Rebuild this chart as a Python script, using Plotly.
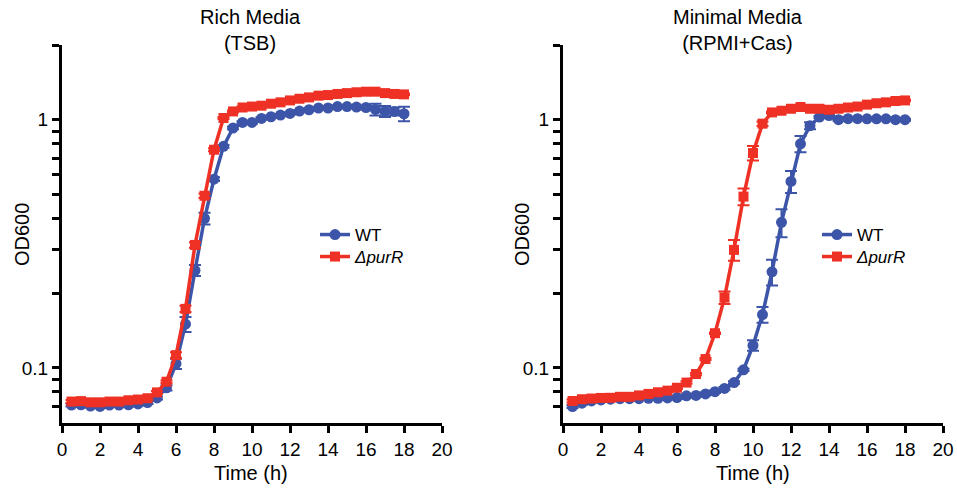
import plotly.graph_objects as go
import math

time_h = [0.5, 1, 1.5, 2, 2.5, 3, 3.5, 4, 4.5, 5, 5.5, 6, 6.5, 7, 7.5, 8, 8.5, 9,
          9.5, 10, 10.5, 11, 11.5, 12, 12.5, 13, 13.5, 14, 14.5, 15, 15.5, 16, 16.5, 17, 17.5, 18]

# Rich media (TSB)
tsb_wt = [0.0709, 0.071, 0.0702, 0.070, 0.0709, 0.0709, 0.071, 0.0716, 0.0725, 0.0757, 0.0832, 0.104,
          0.150, 0.247, 0.400, 0.576, 0.781, 0.926, 0.975, 0.975, 1.012, 1.028, 1.044, 1.06,
          1.084, 1.097, 1.115, 1.115, 1.13, 1.13, 1.125, 1.12, 1.10, 1.08, 1.08, 1.057]
tsb_wt_err = [0.001, 0.001, 0.001, 0.001, 0.001, 0.001, 0.001, 0.001, 0.001, 0.001, 0.002, 0.005,
              0.0105, 0.0126, 0.022, 0.01, 0.01, 0.01, 0.01, 0.01, 0.01, 0.01, 0.01, 0.01,
              0.01, 0.01, 0.01, 0.01, 0.01, 0.01, 0.01, 0.02, 0.06, 0.055, 0.04, 0.07]
tsb_purr = [0.0732, 0.0735, 0.0727, 0.0727, 0.0732, 0.0732, 0.0741, 0.0746, 0.0755, 0.0797, 0.088, 0.1126,
            0.173, 0.313, 0.494, 0.757, 1.016, 1.08, 1.12, 1.13, 1.139, 1.16, 1.175, 1.196,
            1.215, 1.23, 1.25, 1.257, 1.27, 1.28, 1.29, 1.297, 1.297, 1.28, 1.27, 1.265]
tsb_purr_err = [0.001] * 11 + [0.003, 0.005, 0.008, 0.01, 0.01] + [0.01] * 20

# Minimal media (RPMI+Cas)
rpmi_wt = [0.0699, 0.0721, 0.0736, 0.0743, 0.0748, 0.0752, 0.0752, 0.0752, 0.0754, 0.0754, 0.0757, 0.076,
           0.0772, 0.0775, 0.0786, 0.0802, 0.0827, 0.0873, 0.0983, 0.1232, 0.164, 0.244, 0.386, 0.564,
           0.80, 0.946, 1.025, 1.04, 1.0, 1.01, 1.01, 1.008, 1.008, 1.008, 1.0, 1.0]
rpmi_wt_err = [0.001] * 19 + [0.006, 0.012, 0.029, 0.05, 0.057, 0.06, 0.03] + [0.01] * 10
rpmi_purr = [0.0736, 0.0748, 0.0753, 0.0757, 0.0758, 0.0765, 0.0765, 0.0775, 0.0786, 0.0798, 0.081, 0.0832,
             0.0873, 0.0945, 0.1086, 0.138, 0.192, 0.299, 0.49, 0.734, 0.964, 1.07, 1.087, 1.107,
             1.125, 1.107, 1.107, 1.097, 1.107, 1.12, 1.13, 1.15, 1.165, 1.175, 1.19, 1.196]
rpmi_purr_err = [0.001] * 16 + [0.011, 0.029, 0.038, 0.049, 0.02] + [0.01] * 15

titles = ["Rich Media<br>(TSB)", "Minimal Media<br>(RPMI+Cas)"]
x_title = "Time (h)"
y_title = "OD600"
series_names = ["WT", "<i>ΔpurR</i>"]
x_ticks = [0, 2, 4, 6, 8, 10, 12, 14, 16, 18, 20]
y_tickvals = [0.07, 0.08, 0.09, 0.1, 0.2, 0.3, 0.4, 0.5, 0.6, 0.7, 0.8, 0.9, 1, 2]
y_ticktext = ["" if v not in (0.1, 1) else ("0.1" if v == 0.1 else "1") for v in y_tickvals]

BLUE = "#3C55A8"
RED = "#EE3124"
FONT = "Liberation Sans"
W, H = 957, 488


def px(x):
    return x / W


def py(y):
    return (H - y) / H


fig = go.Figure()

panels = [
    (tsb_wt, tsb_wt_err, tsb_purr, tsb_purr_err, "x", "y", "legend", "legend2"),
    (rpmi_wt, rpmi_wt_err, rpmi_purr, rpmi_purr_err, "x2", "y2", "legend3", "legend4"),
]
for wt, wte, pr, pre, xa, ya, lg1, lg2 in panels:
    fig.add_trace(go.Scatter(
        x=time_h, y=wt, name=series_names[0], mode="lines+markers", xaxis=xa, yaxis=ya, legend=lg1,
        line=dict(color=BLUE, width=3.5), marker=dict(symbol="circle", size=11, color=BLUE),
        error_y=dict(type="data", array=wte, color=BLUE, thickness=2, width=6)))
    fig.add_trace(go.Scatter(
        x=time_h, y=pr, name=series_names[1], mode="lines+markers", xaxis=xa, yaxis=ya, legend=lg2,
        line=dict(color=RED, width=3.5), marker=dict(symbol="square", size=10, color=RED),
        error_y=dict(type="data", array=pre, color=RED, thickness=2, width=6)))

ydom = [py(423), py(45)]
xdoms = [[px(62), px(442)], [px(563), px(943)]]

axis_common_x = dict(range=[0, 20], tickvals=x_ticks, ticks="outside", ticklen=7, tickwidth=2.5,
                     tickcolor="black", showline=True, linecolor="black", linewidth=3,
                     showgrid=False, zeroline=False, tickfont=dict(size=19, color="black"),
                     automargin=False)
axis_common_y = dict(type="log", range=[math.log10(0.06), math.log10(2)], tickvals=y_tickvals,
                     ticktext=y_ticktext, ticks="outside", ticklen=7, tickwidth=2.5, tickcolor="black",
                     showline=True, linecolor="black", linewidth=3, showgrid=False, zeroline=False,
                     tickfont=dict(size=19, color="black"), automargin=False)


def leg(x, y):
    return dict(x=px(x), y=py(y), xanchor="left", yanchor="middle", bgcolor="rgba(0,0,0,0)",
                font=dict(size=17, color="black"), itemwidth=30, tracegroupgap=0)


fig.update_layout(
    width=W, height=H, margin=dict(l=0, r=0, t=0, b=0, autoexpand=False),
    paper_bgcolor="white", plot_bgcolor="white",
    font=dict(family=FONT, color="black"),
    xaxis=dict(domain=xdoms[0], anchor="y", **axis_common_x),
    yaxis=dict(domain=ydom, anchor="x", **axis_common_y),
    xaxis2=dict(domain=xdoms[1], anchor="y2", **axis_common_x),
    yaxis2=dict(domain=ydom, anchor="x2", **axis_common_y),
    legend=leg(315, 235), legend2=leg(315, 257),
    legend3=leg(817, 235), legend4=leg(817, 257),
    showlegend=True,
)

for i, t in enumerate(titles):
    cx = [250, 738][i]
    fig.add_annotation(text=t, x=px(cx), y=py(30), xref="paper", yref="paper",
                       xanchor="center", yanchor="middle", showarrow=False,
                       font=dict(size=20, color="black", family=FONT))
    # axis titles
    fig.add_annotation(text=x_title, x=px([251, 753][i]), y=py(473), xref="paper", yref="paper",
                       xanchor="center", yanchor="middle", showarrow=False,
                       font=dict(size=20, color="black", family=FONT))
    fig.add_annotation(text=y_title, x=px([22, 522][i]), y=py(235), xref="paper", yref="paper",
                       xanchor="center", yanchor="middle", showarrow=False, textangle=-90,
                       font=dict(size=20, color="black", family=FONT))

fig.write_html("out.html", config={"displayModeBar": False},
               post_script="document.body.style.margin='0';")
